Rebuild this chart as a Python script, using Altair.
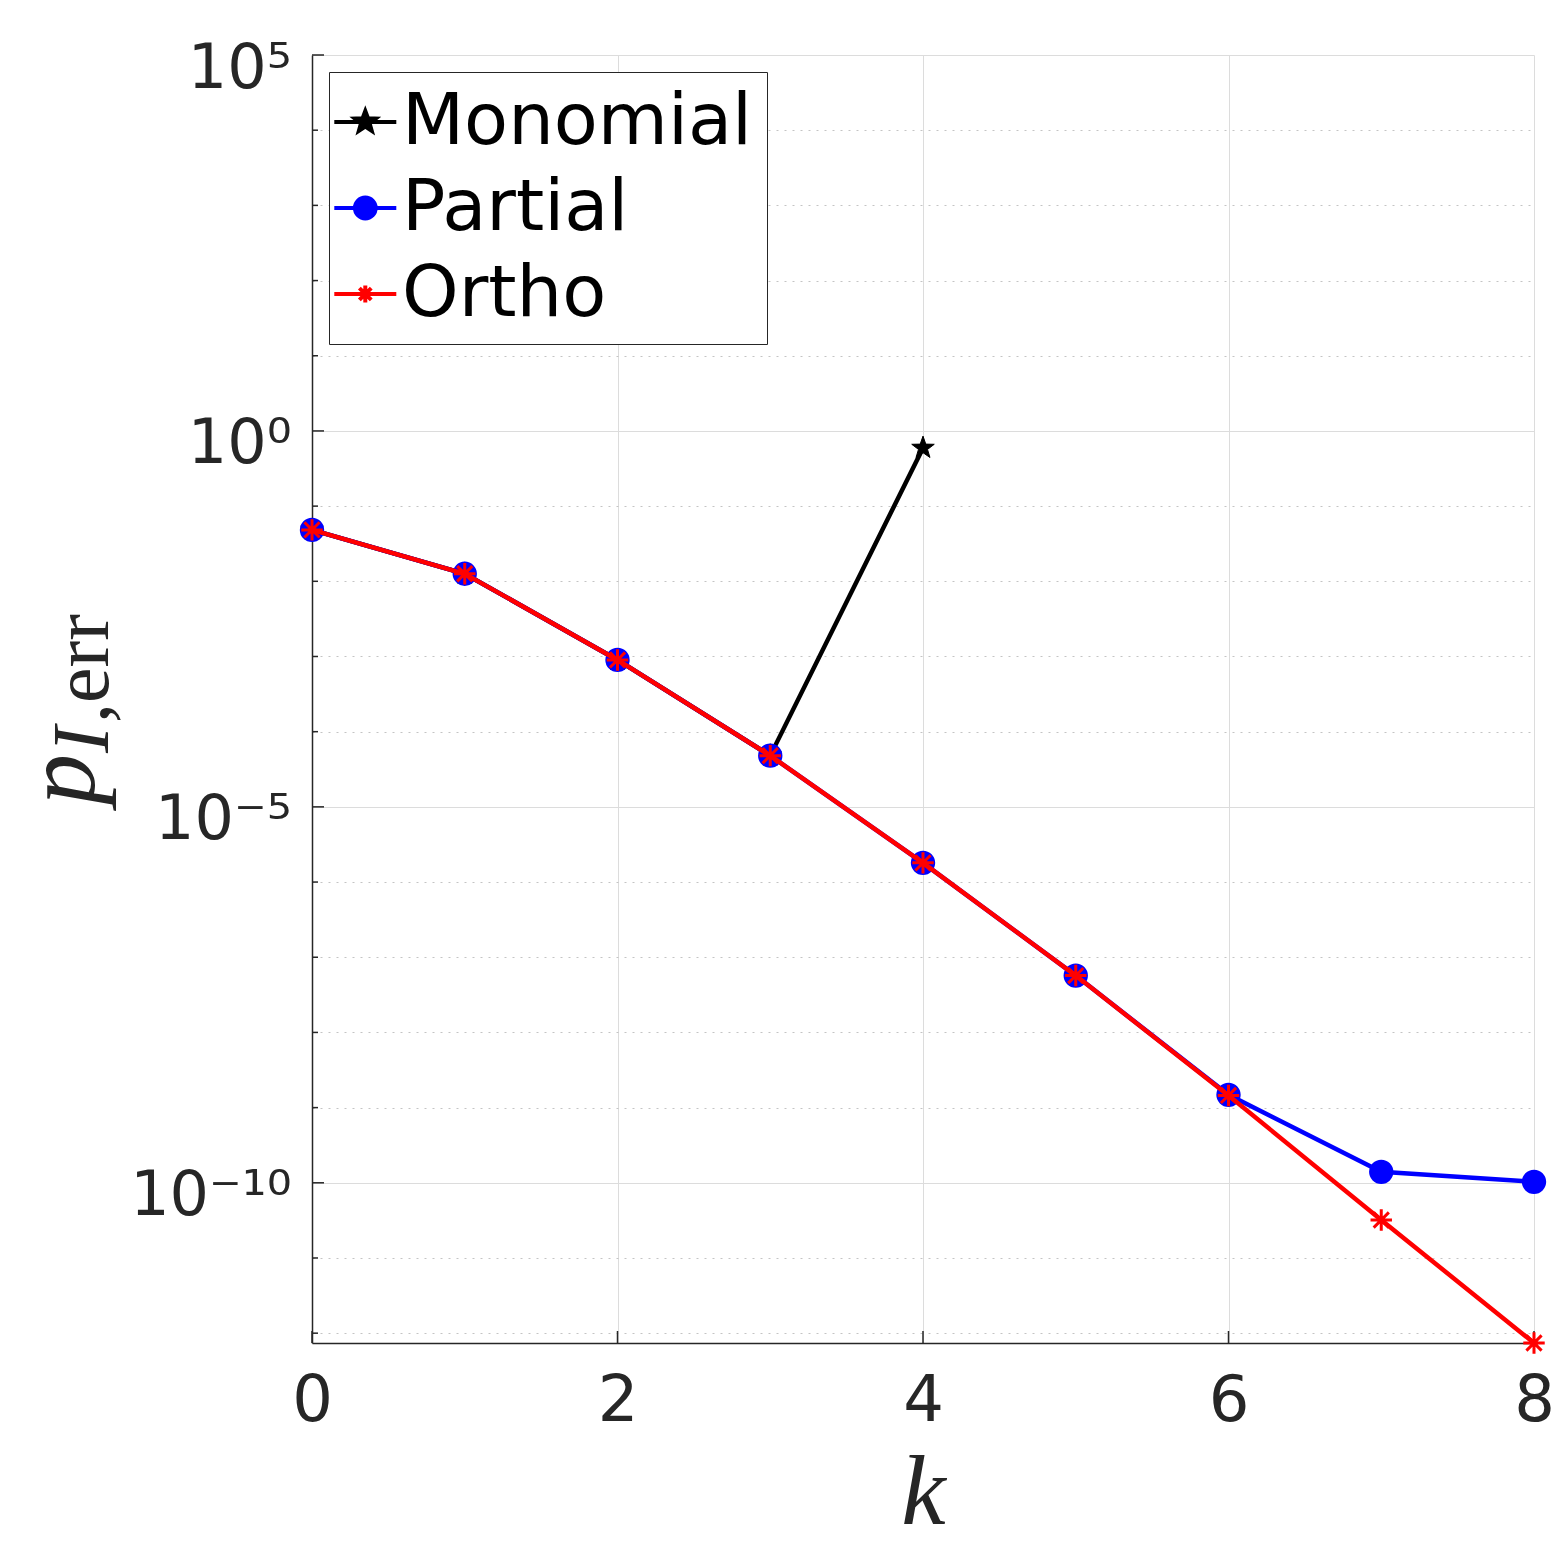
import math
import altair as alt
import pandas as pd

# ---------------- data ----------------
k_vals = [0, 1, 2, 3, 4, 5, 6, 7, 8]
series_names = ["Monomial", "Partial", "Ortho"]
series_colors = ["#000000", "#0000ff", "#ff0000"]
monomial = [0.0483, 0.0126, 9.0e-4, 4.8e-5, 0.594]
partial = [0.0483, 0.0126, 9.0e-4, 4.8e-5, 1.8e-6, 5.7e-8, 1.48e-9, 1.4e-10, 1.03e-10]
ortho = [0.0483, 0.0126, 9.0e-4, 4.8e-5, 1.8e-6, 5.7e-8, 1.45e-9, 3.2e-11, 7.4e-13]

x_ticks = [0, 2, 4, 6, 8]
y_major_exps = [5, 0, -5, -10]
y_major_labels = ["10\u2075", "10\u2070", "10\u207b\u2075", "10\u207b\u00b9\u2070"]
y_minor_exps = [-12, -11, -9, -8, -7, -6, -4, -3, -2, -1, 1, 2, 3, 4]

# ---------------- layout ----------------
W, H = 1222, 1288
PAD_L, PAD_T = 304, 47
AX = "#262626"

def frame(name, vals):
    return pd.DataFrame({"series": name, "k": k_vals[:len(vals)], "value": vals})

df_mono = frame("Monomial", monomial)
df_part = frame("Partial", partial)
df_orth = frame("Ortho", ortho)
df_all = pd.concat([df_mono, df_part, df_orth], ignore_index=True)

xscale = alt.Scale(domain=[0, 8], nice=False, zero=False)
yscale = alt.Scale(type="log", domain=[min(ortho), 1e5], nice=False)

all_exps = sorted(y_major_exps + y_minor_exps)
minor_test = "round(log(datum.value)/LN10) % 5 !== 0"
label_expr = ""
for e, lab in zip(y_major_exps, y_major_labels):
    label_expr += f"round(log(datum.value)/LN10) === {e} ? '{lab}' : "
label_expr += "''"

x_axis = alt.Axis(
    values=x_ticks, format="d", title="k",
    titleFont="Liberation Serif", titleFontStyle="italic", titleFontWeight="normal",
    titleFontSize=100, titleColor=AX, titleY=180, titleBaseline="alphabetic",
    labelFont="DejaVu Sans", labelFontSize=64, labelColor=AX, labelPadding=26,
    labelFlush=False, ticks=False, tickSize=0,
    grid=True, gridColor="#dcdcdc", gridWidth=1,
    domainColor=AX, domainWidth=1.5,
)
y_axis = alt.Axis(
    values=[10.0 ** e for e in all_exps], labelExpr=label_expr, title=None,
    labelFont="DejaVu Sans", labelFontSize=62, labelColor=AX, labelPadding=21,
    labelAlign="right", labelBaseline="middle", labelOffset=13, labelOverlap=False,
    ticks=False, tickSize=0,
    grid=True,
    gridColor={"condition": {"test": minor_test, "value": "#c4c4c4"}, "value": "#dcdcdc"},
    gridDash={"condition": {"test": minor_test, "value": [2, 6]}, "value": []},
    gridWidth=1,
    domainColor=AX, domainWidth=1.5,
)

# ---------------- marker shapes ----------------
def star_path(R, r, ox=0.0):
    pts = []
    for i in range(10):
        ang = -math.pi / 2 + i * math.pi / 5
        rad = R if i % 2 == 0 else r
        pts.append((ox + rad * math.cos(ang), rad * math.sin(ang)))
    return "M" + "L".join(f"{x:.4f},{y:.4f}" for x, y in pts) + "Z"

def asterisk_path(a, ox=0.0):
    d = a * 0.7071
    return (f"M{ox - a:.4f},0L{ox + a:.4f},0M{ox:.4f},{-a}L{ox:.4f},{a}"
            f"M{ox - d:.4f},{-d:.4f}L{ox + d:.4f},{d:.4f}M{ox - d:.4f},{d:.4f}L{ox + d:.4f},{-d:.4f}")

def circle_path(r, ox=0.0):
    return f"M{ox - r:.4f},0A{r},{r} 0 1,0 {ox + r:.4f},0A{r},{r} 0 1,0 {ox - r:.4f},0Z"

STAR = star_path(1.0, 0.4)
AST = asterisk_path(1.0)

SH = -0.685  # legend glyph shift (units of the symbol half-width)
LEG_LINE = f"M{-1.55 + SH:.4f},0L{1.55 + SH:.4f},0"
leg_shapes = [LEG_LINE + star_path(0.55, 0.23, SH),
              LEG_LINE + circle_path(0.52, SH),
              LEG_LINE + asterisk_path(0.42, SH)]

legend = alt.Legend(
    title=None, orient="none", legendX=17, legendY=17, direction="vertical",
    labelFont="DejaVu Sans", labelFontSize=72, labelColor="#000000", labelLimit=1000,
    symbolSize=1600, symbolStrokeWidth=4, symbolOpacity=1, labelOffset={"expr": "-13"},
    padding=14, rowPadding=14, strokeColor=AX, fillColor="white",
)

# ---------------- layers ----------------
def enc_xy():
    return dict(
        x=alt.X("k:Q", scale=xscale, axis=x_axis),
        y=alt.Y("value:Q", scale=yscale, axis=y_axis),
    )

mono_line = alt.Chart(df_mono).mark_line(strokeWidth=4.5, color="#000000").encode(**enc_xy())
mono_pts = alt.Chart(df_mono).mark_point(shape=STAR, filled=True, fill="#000000", stroke="#000000",
                                         strokeWidth=1, size=560, opacity=1).encode(**enc_xy())
part_line = alt.Chart(df_part).mark_line(strokeWidth=4.5, color="#0000ff").encode(**enc_xy())
part_pts = alt.Chart(df_part).mark_point(shape="circle", filled=True, fill="#0000ff", stroke="#0000ff",
                                         strokeWidth=2, size=500, opacity=1).encode(**enc_xy())
orth_line = alt.Chart(df_orth).mark_line(strokeWidth=4.5, color="#ff0000").encode(**enc_xy())
orth_pts = alt.Chart(df_orth).mark_point(shape=AST, filled=False, stroke="#ff0000",
                                         strokeWidth=3, size=460, opacity=1).encode(**enc_xy())

# legend-only layer (no marks drawn, legend built from the scales' domains)
leg_layer = alt.Chart(df_all).transform_filter("false").mark_point(
    filled=True, size=1600, opacity=1, strokeWidth=4).encode(
    **enc_xy(),
    fill=alt.Fill("series:N", scale=alt.Scale(domain=series_names, range=series_colors), legend=legend),
    stroke=alt.Stroke("series:N", scale=alt.Scale(domain=series_names, range=series_colors), legend=legend),
    shape=alt.Shape("series:N", scale=alt.Scale(domain=series_names, range=leg_shapes), legend=legend),
)

# inward tick marks
ytick_major = alt.Chart(pd.DataFrame({"value": [10.0 ** e for e in y_major_exps]})).mark_rule(
    color=AX, strokeWidth=1.5).encode(
    y=alt.Y("value:Q", scale=yscale, axis=y_axis), x=alt.value(0), x2=alt.value(12))
ytick_minor = alt.Chart(pd.DataFrame({"value": [10.0 ** e for e in y_minor_exps]})).mark_rule(
    color=AX, strokeWidth=1.5).encode(
    y=alt.Y("value:Q", scale=yscale, axis=y_axis), x=alt.value(0), x2=alt.value(6))
xtick = alt.Chart(pd.DataFrame({"k": x_ticks})).mark_rule(color=AX, strokeWidth=1.5).encode(
    x=alt.X("k:Q", scale=xscale, axis=x_axis), y=alt.value(H), y2=alt.value(H - 12))

# y-axis title  p_{I,err}
t_p = alt.Chart(pd.DataFrame({"t": ["p"]})).mark_text(
    font="Liberation Serif", fontStyle="italic", fontSize=102, angle=270,
    align="left", baseline="alphabetic", color=AX).encode(
    text="t:N", x=alt.value(-218), y=alt.value(750))
t_i = alt.Chart(pd.DataFrame({"t": ["I"]})).mark_text(
    font="Liberation Serif", fontStyle="italic", fontSize=80, angle=270,
    align="left", baseline="alphabetic", color=AX).encode(
    text="t:N", x=alt.value(-204), y=alt.value(698))
t_err = alt.Chart(pd.DataFrame({"t": [",err"]})).mark_text(
    font="Liberation Serif", fontSize=80, angle=270,
    align="left", baseline="alphabetic", color=AX).encode(
    text="t:N", x=alt.value(-204), y=alt.value(668))

chart = alt.layer(
    mono_line, ytick_major, ytick_minor, xtick,
    mono_pts, part_line, part_pts, orth_line, orth_pts,
    leg_layer, t_p, t_i, t_err,
).properties(
    width=W, height=H,
    autosize=alt.AutoSizeParams(type="none"),
    padding={"left": PAD_L, "top": PAD_T, "right": 20, "bottom": 210},
    background="white",
).configure_view(stroke=None)

chart.save("out.html", embed_options={"renderer": "svg", "actions": False})
